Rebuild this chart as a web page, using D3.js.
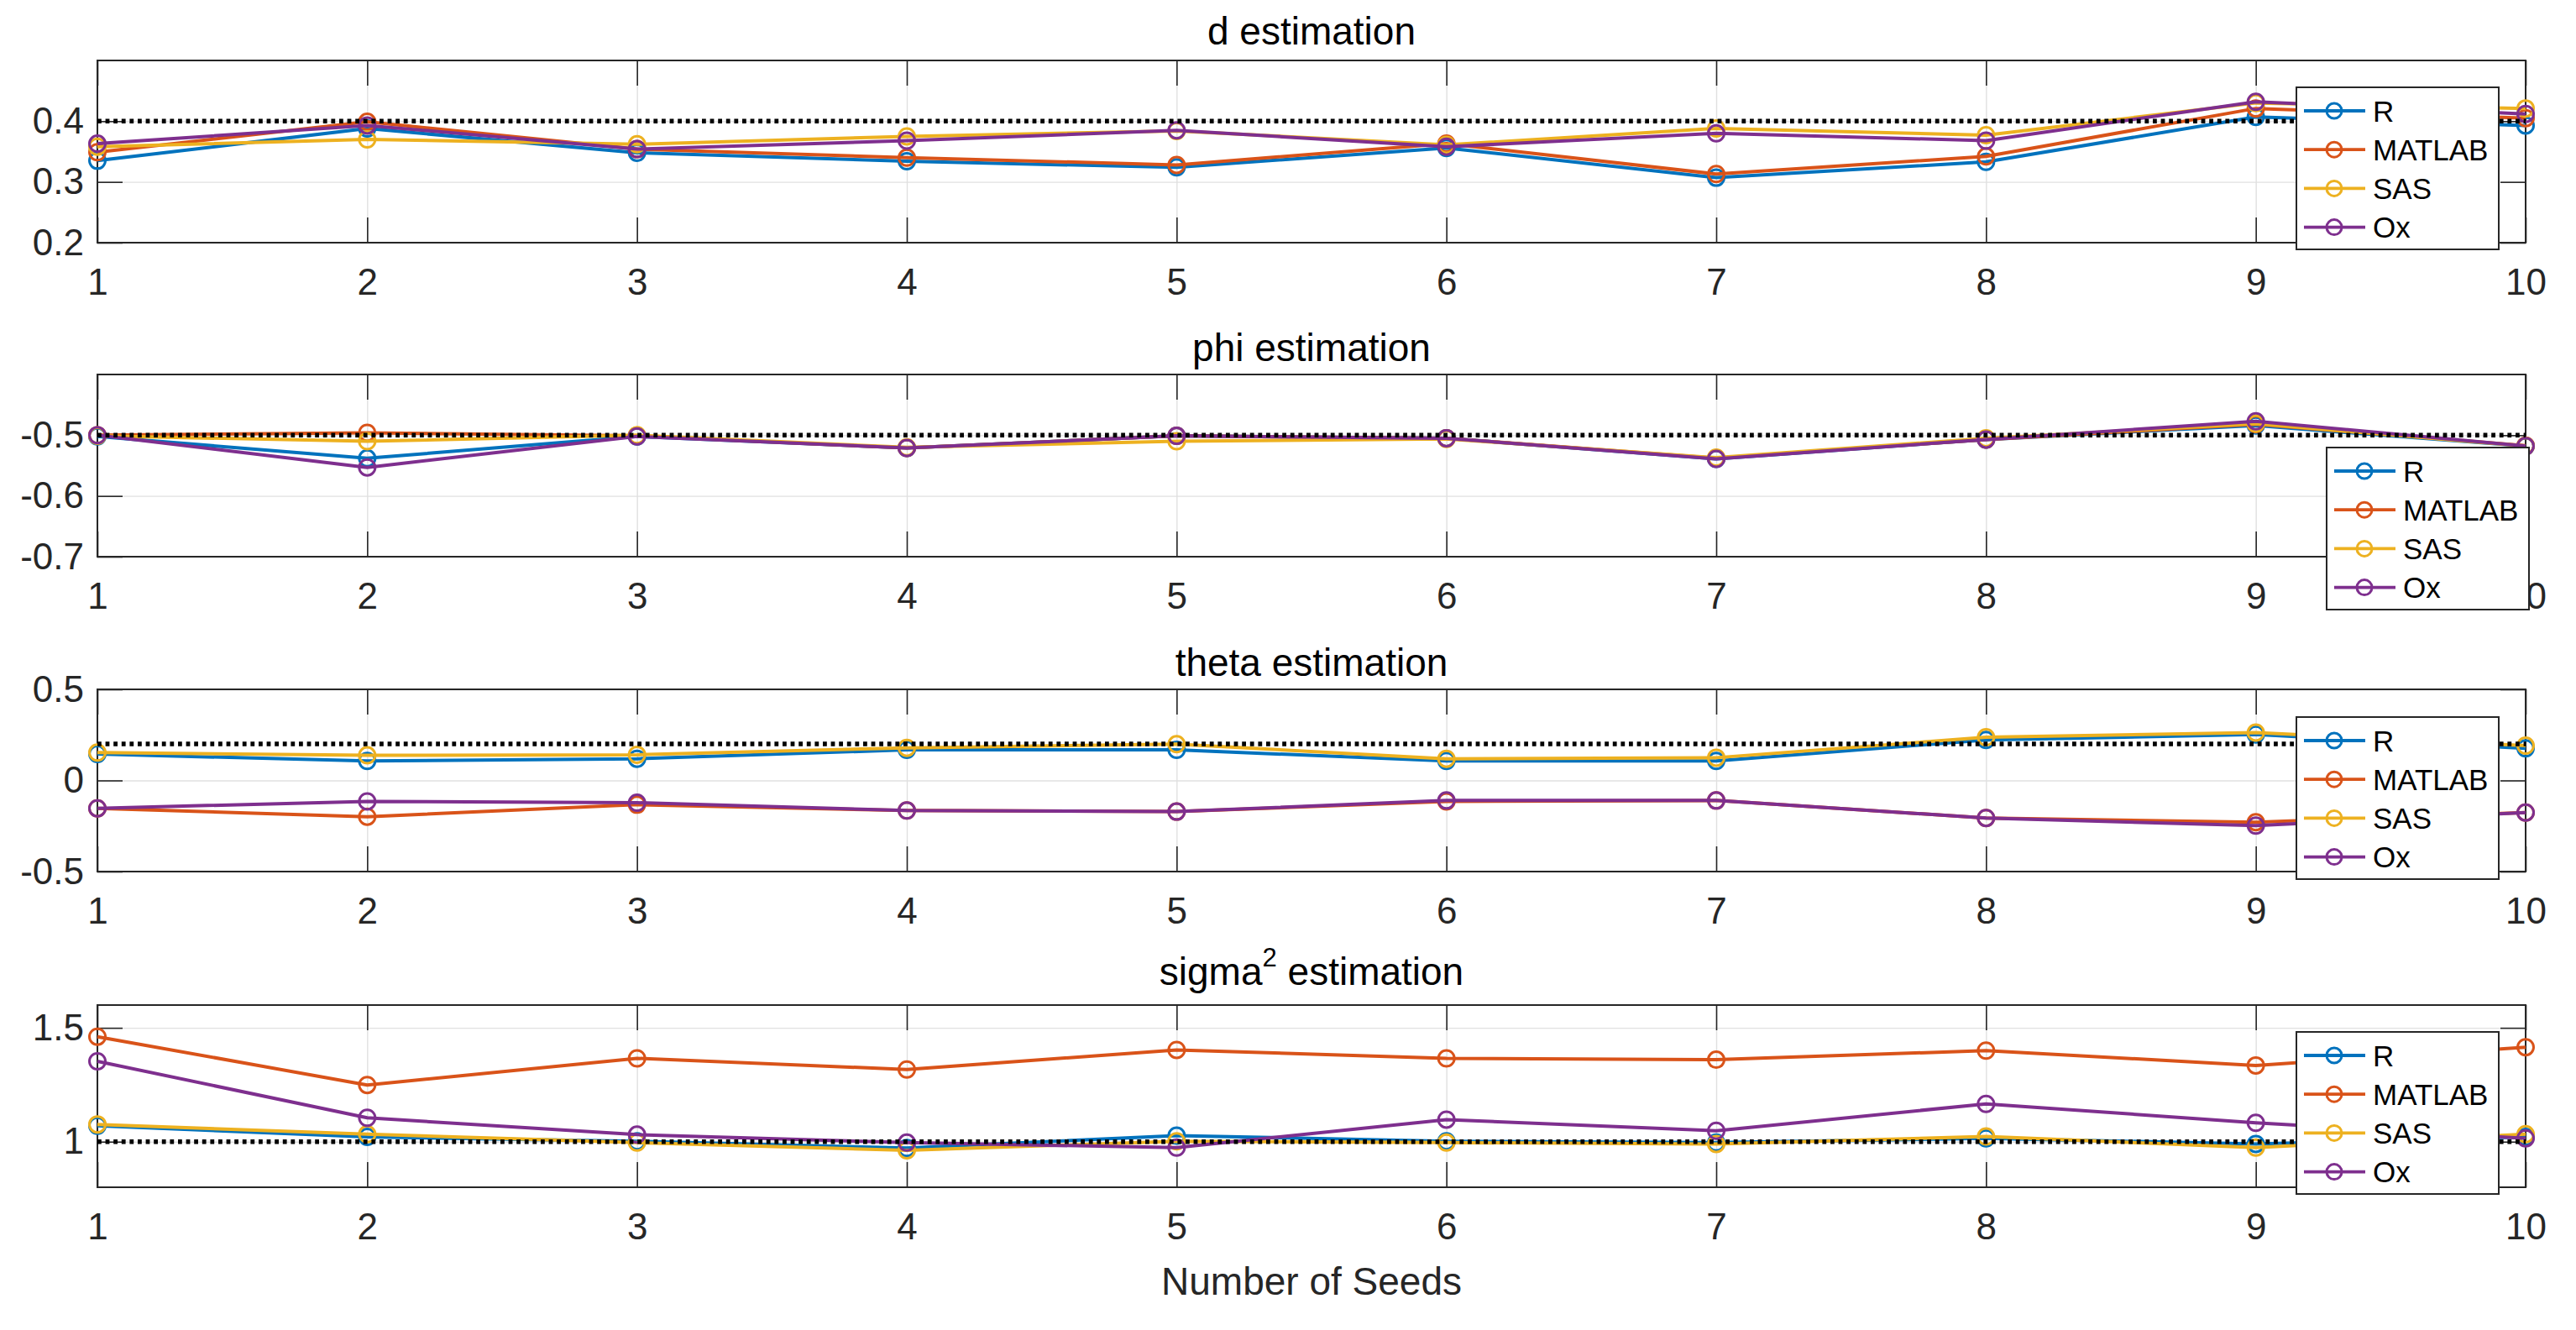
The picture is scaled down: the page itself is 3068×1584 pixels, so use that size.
<!DOCTYPE html>
<html>
<head>
<meta charset="utf-8">
<script src="https://cdn.jsdelivr.net/npm/d3@7"></script>
<style>
  body { margin: 0; background: #fff; }
  svg { display: block; }
</style>
</head>
<body>
<div id="chart"></div>
<script>
// Data
const seeds = [1, 2, 3, 4, 5, 6, 7, 8, 9, 10];
const seriesNames = ["R", "MATLAB", "SAS", "Ox"];
const seriesColors = ["#0072BD", "#D95319", "#EDB120", "#7E2F8E"];

// d estimation
const d_R      = [0.335, 0.388, 0.348, 0.334, 0.324, 0.356, 0.307, 0.333, 0.407, 0.393];
const d_MATLAB = [0.349, 0.399, 0.354, 0.340, 0.328, 0.363, 0.313, 0.342, 0.421, 0.405];
const d_SAS    = [0.358, 0.370, 0.362, 0.375, 0.384, 0.361, 0.388, 0.377, 0.430, 0.421];
const d_Ox     = [0.363, 0.393, 0.354, 0.368, 0.385, 0.358, 0.380, 0.368, 0.432, 0.412];
const d_true = 0.4;

// phi estimation
const phi_R      = [-0.502, -0.538, -0.502, -0.521, -0.501, -0.505, -0.539, -0.507, -0.484, -0.518];
const phi_MATLAB = [-0.500, -0.496, -0.501, -0.521, -0.501, -0.505, -0.538, -0.507, -0.482, -0.517];
const phi_SAS    = [-0.501, -0.510, -0.500, -0.520, -0.510, -0.506, -0.537, -0.505, -0.481, -0.518];
const phi_Ox     = [-0.500, -0.553, -0.502, -0.521, -0.501, -0.505, -0.539, -0.507, -0.477, -0.518];
const phi_true = -0.5;

// theta estimation
const theta_R      = [0.145, 0.107, 0.119, 0.168, 0.168, 0.107, 0.107, 0.222, 0.252, 0.176];
const theta_MATLAB = [-0.153, -0.199, -0.133, -0.165, -0.171, -0.115, -0.110, -0.206, -0.229, -0.176];
const theta_SAS    = [0.153, 0.138, 0.141, 0.179, 0.199, 0.119, 0.125, 0.237, 0.263, 0.191];
const theta_Ox     = [-0.153, -0.115, -0.122, -0.165, -0.171, -0.110, -0.110, -0.206, -0.248, -0.176];
const theta_true = 0.2;

// sigma^2 estimation
const sigma_R      = [1.070, 1.021, 1.002, 0.972, 1.027, 1.002, 0.996, 1.015, 0.990, 1.021];
const sigma_MATLAB = [1.461, 1.249, 1.366, 1.317, 1.403, 1.366, 1.360, 1.400, 1.335, 1.415];
const sigma_SAS    = [1.076, 1.033, 0.996, 0.962, 1.002, 0.996, 0.990, 1.023, 0.974, 1.033];
const sigma_Ox     = [1.353, 1.105, 1.031, 0.996, 0.974, 1.097, 1.048, 1.166, 1.083, 1.015];
const sigma_true = 1;

// y axis limits and tick labels
const d_domain = [0.2, 0.5],      d_ticks = [0.2, 0.3, 0.4];
const phi_domain = [-0.7, -0.4],  phi_ticks = [-0.7, -0.6, -0.5];
const theta_domain = [-0.5, 0.5], theta_ticks = [-0.5, 0, 0.5];
const sigma_domain = [0.8, 1.6],  sigma_ticks = [1, 1.5];

// Set up the figure
const svgWidth = 3068;
const svgHeight = 1584;
const left = 116, right = 3008;
const plotH = 217;
const font = "'Liberation Sans', Arial, Helvetica, sans-serif";
const axisColor = "#262626";

const panels = [
  { title: "d estimation", series: [d_R, d_MATLAB, d_SAS, d_Ox], truth: d_true,
    domain: d_domain, ticks: d_ticks, top: 72, titleGap: 19, legend: [2735, 104] },
  { title: "phi estimation", series: [phi_R, phi_MATLAB, phi_SAS, phi_Ox], truth: phi_true,
    domain: phi_domain, ticks: phi_ticks, top: 446, titleGap: 16, legend: [2771, 533] },
  { title: "theta estimation", series: [theta_R, theta_MATLAB, theta_SAS, theta_Ox], truth: theta_true,
    domain: theta_domain, ticks: theta_ticks, top: 821, titleGap: 16, legend: [2735, 854] },
  { title: "sigma", sup: "2", rest: " estimation", series: [sigma_R, sigma_MATLAB, sigma_SAS, sigma_Ox],
    truth: sigma_true, domain: sigma_domain, ticks: sigma_ticks, top: 1197, titleGap: 24, legend: [2735, 1229] }
];

const svg = d3.select("#chart")
  .append("svg")
  .attr("width", svgWidth)
  .attr("height", svgHeight)
  .style("font-family", font);

svg.append("rect").attr("width", svgWidth).attr("height", svgHeight).attr("fill", "#fff");

const x = d3.scaleLinear().domain([1, 10]).range([left, right]);
const fmt = v => String(v);

panels.forEach(p => {
  const y = d3.scaleLinear().domain(p.domain).range([p.top + plotH, p.top]);
  const g = svg.append("g");

  // grid
  g.append("g")
    .attr("transform", `translate(0, ${p.top + plotH})`)
    .call(d3.axisBottom(x).tickValues(seeds).tickSize(-plotH).tickFormat(""))
    .call(a => a.select(".domain").remove())
    .selectAll("line").attr("stroke", "#e0e0e0").attr("stroke-width", 1.4);
  g.append("g")
    .attr("transform", `translate(${left}, 0)`)
    .call(d3.axisLeft(y).tickValues(p.ticks).tickSize(-(right - left)).tickFormat(""))
    .call(a => a.select(".domain").remove())
    .selectAll("line").attr("stroke", "#e0e0e0").attr("stroke-width", 1.4);

  // axes (ticks pointing inward, on all four sides)
  const bottom = g.append("g")
    .attr("transform", `translate(0, ${p.top + plotH})`)
    .call(d3.axisBottom(x).tickValues(seeds).tickSize(-30).tickSizeOuter(0).tickPadding(31).tickFormat(fmt));
  const topAx = g.append("g")
    .attr("transform", `translate(0, ${p.top})`)
    .call(d3.axisTop(x).tickValues(seeds).tickSize(-30).tickSizeOuter(0).tickFormat(""));
  const leftAx = g.append("g")
    .attr("transform", `translate(${left}, 0)`)
    .call(d3.axisLeft(y).tickValues(p.ticks).tickSize(-30).tickSizeOuter(0).tickPadding(16).tickFormat(fmt));
  const rightAx = g.append("g")
    .attr("transform", `translate(${right}, 0)`)
    .call(d3.axisRight(y).tickValues(p.ticks).tickSize(-30).tickSizeOuter(0).tickFormat(""));

  [bottom, topAx, leftAx, rightAx].forEach(a => {
    a.select(".domain").remove();
    a.selectAll("line").attr("stroke", axisColor).attr("stroke-width", 1.6);
    a.selectAll("text").attr("fill", axisColor).style("font-size", "44px").style("font-family", font);
  });

  // box
  g.append("rect")
    .attr("x", left).attr("y", p.top)
    .attr("width", right - left).attr("height", plotH)
    .attr("fill", "none").attr("stroke", axisColor).attr("stroke-width", 2);

  // series
  const line = d3.line().x((d, i) => x(seeds[i])).y(d => y(d));
  p.series.forEach((vals, k) => {
    g.append("path")
      .datum(vals)
      .attr("d", line)
      .attr("fill", "none")
      .attr("stroke", seriesColors[k])
      .attr("stroke-width", 4)
      .attr("stroke-linejoin", "round");
    g.selectAll(null)
      .data(vals)
      .join("circle")
      .attr("cx", (d, i) => x(seeds[i]))
      .attr("cy", d => y(d))
      .attr("r", 9.5)
      .attr("fill", "none")
      .attr("stroke", seriesColors[k])
      .attr("stroke-width", 3);
  });

  // true value (dotted)
  g.append("path")
    .datum([1, 10])
    .attr("d", d3.line().x(d => x(d)).y(() => y(p.truth)))
    .attr("stroke", "#000")
    .attr("stroke-width", 5.5)
    .attr("stroke-dasharray", "4.8 4.8");

  // title
  const t = g.append("text")
    .attr("x", (left + right) / 2)
    .attr("y", p.top - p.titleGap)
    .attr("text-anchor", "middle")
    .attr("fill", "#000")
    .style("font-size", "46px")
    .text(p.title);
  if (p.sup) {
    t.append("tspan").attr("dy", -22).style("font-size", "31px").text(p.sup);
    t.append("tspan").attr("dy", 22).text(p.rest);
  }

  // legend
  const [lx, ly] = p.legend;
  const lg = g.append("g").attr("transform", `translate(${lx}, ${ly})`);
  lg.append("rect")
    .attr("width", 241).attr("height", 193)
    .attr("fill", "#fff").attr("stroke", axisColor).attr("stroke-width", 2);
  seriesNames.forEach((name, k) => {
    const ry = 28 + k * 46.2;
    lg.append("line")
      .attr("x1", 9).attr("x2", 82).attr("y1", ry).attr("y2", ry)
      .attr("stroke", seriesColors[k]).attr("stroke-width", 3.8);
    lg.append("circle")
      .attr("cx", 45).attr("cy", ry).attr("r", 9)
      .attr("fill", "none").attr("stroke", seriesColors[k]).attr("stroke-width", 3);
    lg.append("text")
      .attr("x", 91).attr("y", ry).attr("dy", "0.36em")
      .attr("fill", "#000")
      .style("font-size", "35px")
      .text(name);
  });
});

// x axis label
svg.append("text")
  .attr("x", (left + right) / 2)
  .attr("y", 1542)
  .attr("text-anchor", "middle")
  .attr("fill", axisColor)
  .style("font-size", "46px")
  .text("Number of Seeds");
</script>
</body>
</html>
